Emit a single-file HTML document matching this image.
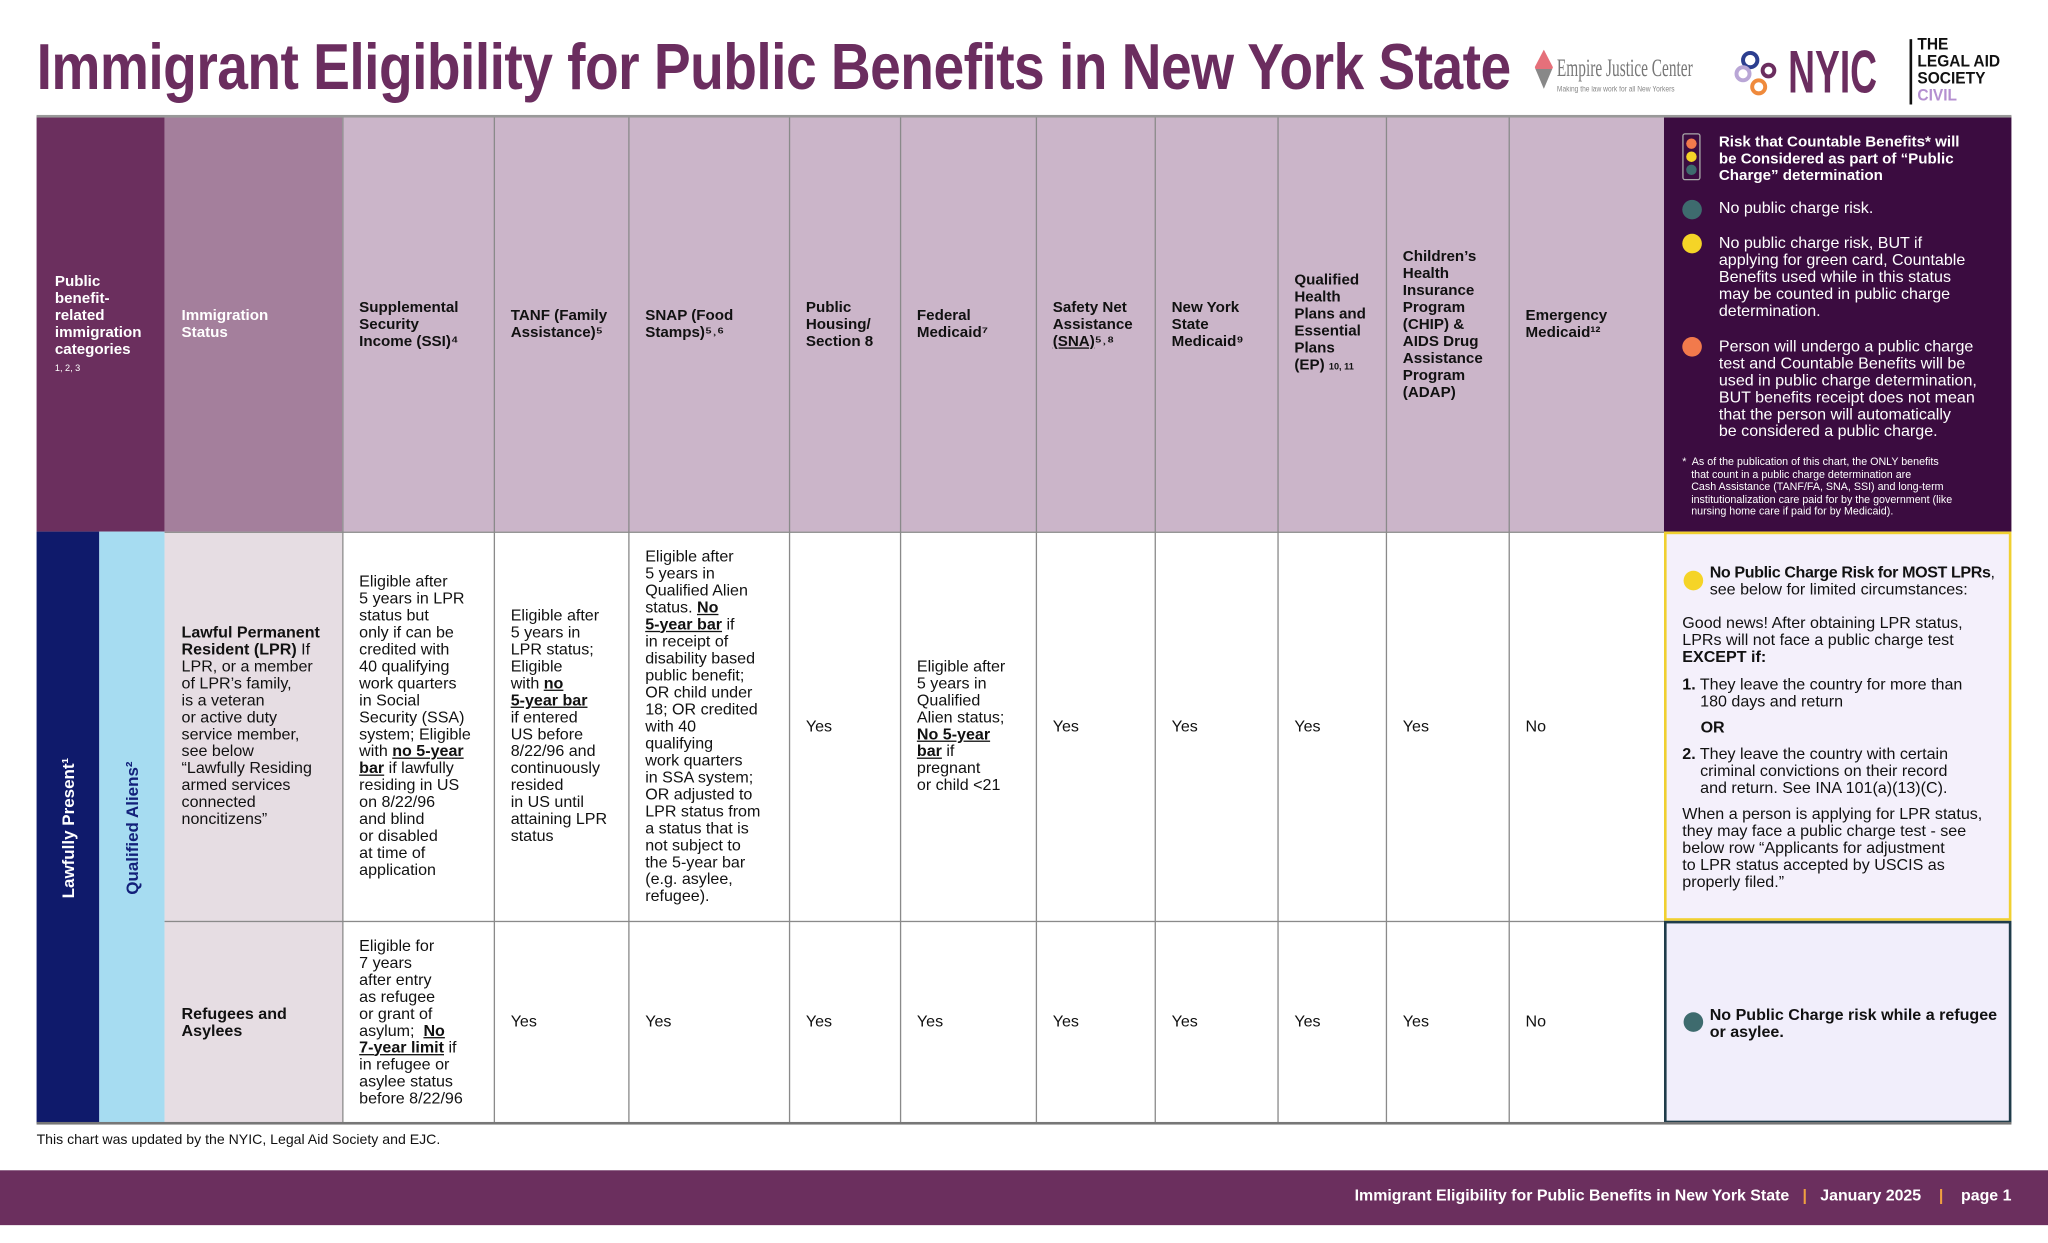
<!DOCTYPE html>
<html><head><meta charset="utf-8">
<style>
html,body{margin:0;padding:0;background:#fff;}
body{width:2048px;height:1243px;overflow:hidden;position:relative;}
#w{position:absolute;left:0;top:0;width:1568px;height:952px;transform:scale(1.30612);transform-origin:0 0;font-family:"Liberation Sans",sans-serif;color:#111;}
.a{position:absolute;box-sizing:border-box;}
.c{position:absolute;box-sizing:border-box;display:flex;align-items:center;padding:0 4px 0 13px;font-size:12.3px;line-height:13px;white-space:nowrap;}
.h{font-weight:bold;font-size:11.6px;}
.b{font-weight:bold}
u{text-decoration:underline;font-weight:bold}
.vl{position:absolute;top:89px;width:1px;height:771px;background:#8a8a8a;}
.t{position:absolute;font-size:12.3px;line-height:13px;white-space:nowrap;}
</style></head><body><div id="w">
<div class="a" style="left:28px;top:22px;font-weight:bold;font-size:50px;color:#6b2d5f;white-space:nowrap;transform:scaleX(0.845);transform-origin:0 0;letter-spacing:-0.5px">Immigrant Eligibility for Public Benefits in New York State</div>
<div class="a" style="left:1175px;top:38px;width:14px;height:30px;background:linear-gradient(#e5707a 50%,#888 50%);clip-path:polygon(50% 0,100% 45%,50% 100%,0 45%)"></div>
<div class="a" style="left:1192px;top:42px;font-family:'Liberation Serif',serif;font-size:19px;color:#777;white-space:nowrap;transform:scaleX(0.62);transform-origin:0 0">Empire Justice Center</div>
<div class="a" style="left:1192px;top:66px;font-size:6px;color:#888;white-space:nowrap;transform:scaleX(0.85);transform-origin:0 0">Making the law work for all New Yorkers</div>
<div class="a" style="left:1333px;top:39px;width:14px;height:14px;border:3px solid #2c3e8f;border-radius:50%"></div>
<div class="a" style="left:1328px;top:50px;width:13px;height:13px;border:3px solid #b9a6d6;border-radius:50%"></div>
<div class="a" style="left:1340px;top:60px;width:13px;height:13px;border:3px solid #ef8a3c;border-radius:50%"></div>
<div class="a" style="left:1348px;top:48px;width:12px;height:12px;border:3px solid #6b2d5f;border-radius:50%"></div>
<div class="a" style="left:1369px;top:30px;font-weight:bold;font-size:46px;color:#6b2d5f;transform:scaleX(0.62);transform-origin:0 0;line-height:50px">NYIC</div>
<div class="a" style="left:1462px;top:30px;width:2px;height:50px;background:#111"></div>
<div class="a" style="left:1468px;top:28px;font-weight:bold;font-size:12.5px;line-height:13px;color:#111;transform:scaleX(0.95);transform-origin:0 0">THE<br>LEGAL AID<br>SOCIETY<br><span style="color:#b48fd0">CIVIL</span></div>

<div class="a" style="left:28px;top:89px;width:98px;height:318px;background:#6b2f5e"></div>
<div class="a" style="left:126px;top:89px;width:136px;height:318px;background:#a47f9c"></div>
<div class="a" style="left:262px;top:89px;width:1012px;height:318px;background:#cbb5c9"></div>
<div class="a" style="left:1274px;top:89px;width:266px;height:318px;background:#3b0c40"></div>
<div class="a" style="left:28px;top:407px;width:48px;height:453px;background:#0f1a6b"></div>
<div class="a" style="left:76px;top:407px;width:50px;height:453px;background:#a6dcf1"></div>
<div class="a" style="left:126px;top:407px;width:136px;height:453px;background:#e6dde3"></div>
<div class="a" style="left:1274px;top:407px;width:266px;height:298px;background:#f4f0fb;border:2px solid #f0d030"></div>
<div class="a" style="left:1274px;top:705px;width:266px;height:155px;background:#f1eefb;border:2px solid #1f3c4a"></div>
<div class="vl" style="left:262px"></div><div class="vl" style="left:378px"></div><div class="vl" style="left:481px"></div><div class="vl" style="left:604px"></div><div class="vl" style="left:689px"></div><div class="vl" style="left:793px"></div><div class="vl" style="left:884px"></div><div class="vl" style="left:978px"></div><div class="vl" style="left:1061px"></div><div class="vl" style="left:1155px"></div>
<div class="a" style="left:126px;top:407px;width:1148px;height:1px;background:#8a8a8a"></div>
<div class="a" style="left:126px;top:705px;width:1148px;height:1px;background:#8a8a8a"></div>
<div class="a" style="left:28px;top:859px;width:1512px;height:1.5px;background:#777"></div>
<div class="a" style="left:28px;top:88px;width:1512px;height:1.5px;background:#999"></div>

<div class="c h" style="left:28px;top:89px;width:98px;height:318px;color:#fff;padding-left:14px"><div>Public<br>benefit-<br>related<br>immigration<br>categories<br><span style="font-weight:normal;font-size:7px;line-height:9px">1, 2, 3</span></div></div>
<div class="c h" style="left:126px;top:89px;width:136px;height:318px;color:#fff"><div>Immigration<br>Status</div></div>
<div class="c h" style="left:262px;top:89px;width:116px;height:318px"><div>Supplemental<br>Security<br>Income (SSI)⁴</div></div>
<div class="c h" style="left:378px;top:89px;width:103px;height:318px"><div>TANF (Family<br>Assistance)⁵</div></div>
<div class="c h" style="left:481px;top:89px;width:123px;height:318px"><div>SNAP (Food<br>Stamps)⁵˒⁶</div></div>
<div class="c h" style="left:604px;top:89px;width:85px;height:318px"><div>Public<br>Housing/<br>Section 8</div></div>
<div class="c h" style="left:689px;top:89px;width:104px;height:318px"><div>Federal<br>Medicaid⁷</div></div>
<div class="c h" style="left:793px;top:89px;width:91px;height:318px"><div>Safety Net<br>Assistance<br><span style="text-decoration:underline">(SNA)</span>⁵˒⁸</div></div>
<div class="c h" style="left:884px;top:89px;width:94px;height:318px"><div>New York<br>State<br>Medicaid⁹</div></div>
<div class="c h" style="left:978px;top:89px;width:83px;height:318px"><div>Qualified<br>Health<br>Plans and<br>Essential<br>Plans<br>(EP) <span style="font-size:7px">10, 11</span></div></div>
<div class="c h" style="left:1061px;top:89px;width:94px;height:318px"><div>Children’s<br>Health<br>Insurance<br>Program<br>(CHIP) &amp;<br>AIDS Drug<br>Assistance<br>Program<br>(ADAP)</div></div>
<div class="c h" style="left:1155px;top:89px;width:119px;height:318px"><div>Emergency<br>Medicaid¹²</div></div>

<div class="a" style="left:1288px;top:102px;width:14px;height:36px;border:1px solid #aaa;border-radius:2px"></div>
<div class="a" style="left:1291px;top:106px;width:8px;height:8px;border-radius:50%;background:#f27a4c"></div>
<div class="a" style="left:1291px;top:116px;width:8px;height:8px;border-radius:50%;background:#f5d427"></div>
<div class="a" style="left:1291px;top:126px;width:8px;height:8px;border-radius:50%;background:#3e6b6e"></div>
<div class="t" style="left:1316px;top:102px;color:#fff;font-weight:bold;font-size:11.6px">Risk that Countable Benefits* will<br>be Considered as part of “Public<br>Charge” determination</div>
<div class="a" style="left:1288px;top:153px;width:15px;height:15px;border-radius:50%;background:#3e6b6e"></div>
<div class="t" style="left:1316px;top:153px;color:#fff">No public charge risk.</div>
<div class="a" style="left:1288px;top:179px;width:15px;height:15px;border-radius:50%;background:#f5d427"></div>
<div class="t" style="left:1316px;top:180px;color:#fff">No public charge risk, BUT if<br>applying for green card, Countable<br>Benefits used while in this status<br>may be counted in public charge<br>determination.</div>
<div class="a" style="left:1288px;top:258px;width:15px;height:15px;border-radius:50%;background:#f27a4c"></div>
<div class="t" style="left:1316px;top:259px;color:#fff">Person will undergo a public charge<br>test and Countable Benefits will be<br>used in public charge determination,<br>BUT benefits receipt does not mean<br>that the person will automatically<br>be considered a public charge.</div>
<div class="t" style="left:1288px;top:349px;color:#fff;font-size:8.2px;line-height:9.5px">*&nbsp; As of the publication of this chart, the ONLY benefits<br>&nbsp;&nbsp;&nbsp;that count in a public charge determination are<br>&nbsp;&nbsp;&nbsp;Cash Assistance (TANF/FA, SNA, SSI) and long-term<br>&nbsp;&nbsp;&nbsp;institutionalization care paid for by the government (like<br>&nbsp;&nbsp;&nbsp;nursing home care if paid for by Medicaid).</div>

<div class="a" style="left:52px;top:634px;transform:translate(-50%,-50%) rotate(-90deg);color:#fff;font-weight:bold;font-size:13px;white-space:nowrap">Lawfully Present¹</div>
<div class="a" style="left:101px;top:634px;transform:translate(-50%,-50%) rotate(-90deg);color:#13207a;font-weight:bold;font-size:13px;white-space:nowrap">Qualified Aliens²</div>

<div class="c" style="left:126px;top:407px;width:136px;height:298px"><div><span class="b">Lawful Permanent<br>Resident (LPR)</span> If<br>LPR, or a member<br>of LPR’s family,<br>is a veteran<br>or active duty<br>service member,<br>see below<br>“Lawfully Residing<br>armed services<br>connected<br>noncitizens”</div></div>
<div class="c" style="left:262px;top:407px;width:116px;height:298px"><div>Eligible after<br>5 years in LPR<br>status but<br>only if can be<br>credited with<br>40 qualifying<br>work quarters<br>in Social<br>Security (SSA)<br>system; Eligible<br>with <u>no 5-year</u><br><u>bar</u> if lawfully<br>residing in US<br>on 8/22/96<br>and blind<br>or disabled<br>at time of<br>application</div></div>
<div class="c" style="left:378px;top:407px;width:103px;height:298px"><div>Eligible after<br>5 years in<br>LPR status;<br>Eligible<br>with <u>no</u><br><u>5-year bar</u><br>if entered<br>US before<br>8/22/96 and<br>continuously<br>resided<br>in US until<br>attaining LPR<br>status</div></div>
<div class="c" style="left:481px;top:407px;width:123px;height:298px"><div>Eligible after<br>5 years in<br>Qualified Alien<br>status. <u>No</u><br><u>5-year bar</u> if<br>in receipt of<br>disability based<br>public benefit;<br>OR child under<br>18; OR credited<br>with 40<br>qualifying<br>work quarters<br>in SSA system;<br>OR adjusted to<br>LPR status from<br>a status that is<br>not subject to<br>the 5-year bar<br>(e.g. asylee,<br>refugee).</div></div>
<div class="c" style="left:604px;top:407px;width:85px;height:298px">Yes</div>
<div class="c" style="left:689px;top:407px;width:104px;height:298px"><div>Eligible after<br>5 years in<br>Qualified<br>Alien status;<br><u>No 5-year</u><br><u>bar</u> if<br>pregnant<br>or child &lt;21</div></div>
<div class="c" style="left:793px;top:407px;width:91px;height:298px">Yes</div>
<div class="c" style="left:884px;top:407px;width:94px;height:298px">Yes</div>
<div class="c" style="left:978px;top:407px;width:83px;height:298px">Yes</div>
<div class="c" style="left:1061px;top:407px;width:94px;height:298px">Yes</div>
<div class="c" style="left:1155px;top:407px;width:119px;height:298px">No</div>
<div class="a" style="left:1289px;top:437px;width:15px;height:15px;border-radius:50%;background:#f5d427"></div>
<div class="t" style="left:1309px;top:432px"><span class="b" style="letter-spacing:-0.3px">No Public Charge Risk for MOST LPRs</span>,<br>see below for limited circumstances:</div>
<div class="t" style="left:1288px;top:471px">Good news! After obtaining LPR status,<br>LPRs will not face a public charge test<br><b>EXCEPT if:</b></div>
<div class="t" style="left:1288px;top:518px"><b>1.</b> They leave the country for more than<br>&nbsp;&nbsp;&nbsp;&nbsp;180 days and return</div>
<div class="t" style="left:1302px;top:551px;font-weight:bold">OR</div>
<div class="t" style="left:1288px;top:571px"><b>2.</b> They leave the country with certain<br>&nbsp;&nbsp;&nbsp;&nbsp;criminal convictions on their record<br>&nbsp;&nbsp;&nbsp;&nbsp;and return. See INA 101(a)(13)(C).</div>
<div class="t" style="left:1288px;top:617px">When a person is applying for LPR status,<br>they may face a public charge test - see<br>below row “Applicants for adjustment<br>to LPR status accepted by USCIS as<br>properly filed.”</div>

<div class="c b" style="left:126px;top:705px;width:136px;height:155px"><div>Refugees and<br>Asylees</div></div>
<div class="c" style="left:262px;top:705px;width:116px;height:155px"><div>Eligible for<br>7 years<br>after entry<br>as refugee<br>or grant of<br>asylum; &nbsp;<u>No</u><br><u>7-year limit</u> if<br>in refugee or<br>asylee status<br>before 8/22/96</div></div>
<div class="c" style="left:378px;top:705px;width:103px;height:155px">Yes</div>
<div class="c" style="left:481px;top:705px;width:123px;height:155px">Yes</div>
<div class="c" style="left:604px;top:705px;width:85px;height:155px">Yes</div>
<div class="c" style="left:689px;top:705px;width:104px;height:155px">Yes</div>
<div class="c" style="left:793px;top:705px;width:91px;height:155px">Yes</div>
<div class="c" style="left:884px;top:705px;width:94px;height:155px">Yes</div>
<div class="c" style="left:978px;top:705px;width:83px;height:155px">Yes</div>
<div class="c" style="left:1061px;top:705px;width:94px;height:155px">Yes</div>
<div class="c" style="left:1155px;top:705px;width:119px;height:155px">No</div>
<div class="a" style="left:1289px;top:775px;width:15px;height:15px;border-radius:50%;background:#3e6b6e"></div>
<div class="t" style="left:1309px;top:771px;font-weight:bold">No Public Charge risk while a refugee<br>or asylee.</div>

<div class="a" style="left:28px;top:867px;font-size:10.8px">This chart was updated by the NYIC, Legal Aid Society and EJC.</div>
<div class="a" style="left:0;top:896px;width:1568px;height:42px;background:#6b2f5e"></div>
<div class="a" style="right:28px;top:908px;color:#fff;font-size:12.2px;font-weight:bold;white-space:nowrap">Immigrant Eligibility for Public Benefits in New York State &nbsp;&nbsp;<span style="color:#f0a040">|</span>&nbsp;&nbsp; January 2025 &nbsp;&nbsp;&nbsp;<span style="color:#f0a040">|</span>&nbsp;&nbsp;&nbsp; page 1</div>
</div></body></html>
